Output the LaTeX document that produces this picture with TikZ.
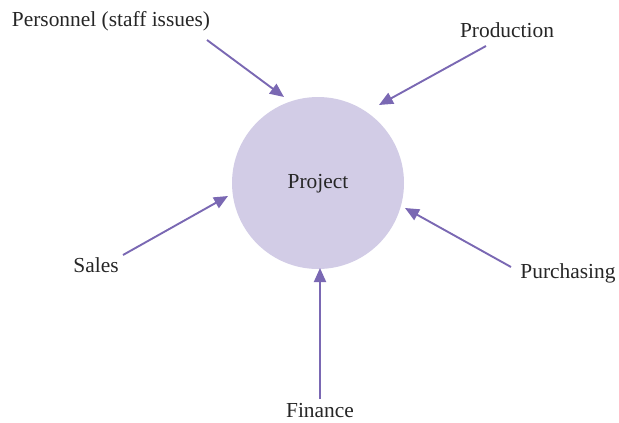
\documentclass[tikz,border=0pt]{standalone}
\usepackage{fontspec}
\setmainfont{Liberation Serif}
\usetikzlibrary{arrows.meta}
\definecolor{circfill}{HTML}{D2CCE6}
\definecolor{arrcol}{HTML}{7A68B3}
\begin{document}
\begin{tikzpicture}[x=1pt,y=-1pt,
  lbl/.style={font=\fontsize{21.4}{25}\selectfont, inner sep=0pt, text=black!85},
  arr/.style={draw=arrcol, line width=1.9pt, -{Triangle[length=14pt,width=12pt]}}]
\useasboundingbox (0,0) rectangle (619,423);
\node[circle, fill=circfill, minimum size=172pt, inner sep=0pt] (proj) at (318,183) {};
\node[lbl] (projt) at (318,184) {Project};
\node[lbl] (pers) at (111,21) {Personnel (staff issues)};
\node[lbl] (prod) at (507,30) {Production};
\node[lbl] (sales) at (96,265) {Sales};
\node[lbl] (purch) at (568,273) {Purchasing};
\node[lbl] (fin) at (320,411) {Finance};
\coordinate (a1) at (207,40);  \coordinate (b1) at (284,97);
\coordinate (a2) at (486,46);  \coordinate (b2) at (379,105);
\coordinate (a3) at (123,255); \coordinate (b3) at (228,196);
\coordinate (a4) at (511,267); \coordinate (b4) at (405,208);
\coordinate (a5) at (320,399); \coordinate (b5) at (320,268);
\draw[arr] (a1) -- (b1);
\draw[arr] (a2) -- (b2);
\draw[arr] (a3) -- (b3);
\draw[arr] (a4) -- (b4);
\draw[arr] (a5) -- (b5);
\end{tikzpicture}
\end{document}
